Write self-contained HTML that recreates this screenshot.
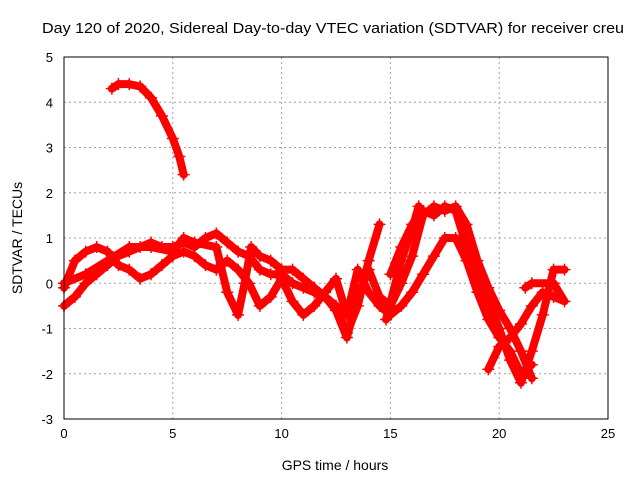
<!DOCTYPE html>
<html><head><meta charset="utf-8"><style>
body{margin:0;background:#fff;}
svg{display:block;font-family:"Liberation Sans",sans-serif;}
</style></head><body>
<svg id="chart" width="640" height="480">
<rect x="0" y="0" width="640" height="480" fill="#fff"/>
<text x="42" y="33" font-size="15" textLength="582" lengthAdjust="spacingAndGlyphs" fill="#000">Day 120 of 2020, Sidereal Day-to-day VTEC variation (SDTVAR) for receiver creu</text>
<g id="grid"></g>
<g id="ticks"></g>
<g id="series"></g>
<rect x="64" y="57" width="544" height="362" fill="none" stroke="#000" stroke-width="1"/>
<text x="335" y="470" font-size="14" text-anchor="middle">GPS time / hours</text>
<text x="0" y="0" font-size="14" text-anchor="middle" transform="translate(22,238) rotate(-90)">SDTVAR / TECUs</text>
</svg>
<script>
const xTicks=[0,5,10,15,20,25];
const yTicks=[-3,-2,-1,0,1,2,3,4,5];
const trackA=[[2.2,4.3],[2.5,4.4],[3,4.4],[3.5,4.35],[4,4.1],[4.5,3.7],[5,3.2],[5.3,2.8],[5.5,2.4]];
const track1=[[0,-0.5],[0.5,-0.3],[1,0],[1.5,0.2],[2,0.4],[2.5,0.6],[3,0.7],[3.5,0.8],[4,0.9],[4.5,0.8],[5,0.8],[5.5,0.9],[6,0.8],[6.5,1.0],[7,1.1],[7.5,0.9],[8,0.7],[8.5,0.6],[9,0.3],[9.5,0.2],[10,0.2],[10.5,0],[11,-0.1],[11.5,-0.2],[12,-0.3],[12.5,-0.5],[13,-1.1],[13.5,-0.5],[14,0.5],[14.5,1.3]];
const track2=[[0,-0.1],[0.5,0.5],[1,0.7],[1.5,0.8],[2,0.7],[2.5,0.4],[3,0.3],[3.5,0.1],[4,0.2],[4.5,0.4],[5,0.6],[5.5,0.7],[6,0.6],[6.5,0.4],[7,0.3],[7.5,0.5],[8,0.3],[8.5,0],[9,-0.5],[9.5,-0.3],[10,0.1],[10.5,-0.4],[11,-0.7],[11.5,-0.5],[12,-0.2],[12.5,0.1],[13,-0.7],[13.5,0.3],[14,-0.2],[14.5,-0.5],[15,-0.7],[15.5,-0.5],[16,-0.2],[16.5,0.2],[17,0.6],[17.5,1.0],[18,1.0],[18.5,0.5],[19,-0.2],[19.5,-0.8],[20,-1.2],[20.5,-1.5],[21,-2.0],[21.5,-1.8]];
const track3=[[0,0],[1,0.2],[2,0.5],[3,0.8],[4,0.8],[5,0.7],[5.5,1.0],[6,0.9],[7,0.8],[7.5,-0.2],[8,-0.7],[8.3,0],[8.6,0.8],[9,0.6],[9.5,0.5],[10,0.3],[10.5,0.3],[11,0.1],[11.5,-0.1],[12,-0.3],[12.5,-0.6],[13,-1.2],[13.5,-0.3],[14,0.3],[14.5,-0.3],[15,-0.5],[15.5,0],[16,0.6],[16.5,1.5],[17,1.7],[17.5,1.6],[18,1.7],[18.5,1.3],[19,0.5],[19.5,-0.1],[20,-0.6],[20.5,-1.0],[21,-1.5],[21.5,-2.1]];
const track4=[[15,0.2],[15.5,0.8],[16,1.3],[16.5,1.6],[17,1.5],[17.5,1.7],[18,1.6],[18.5,0.8],[19,0.2],[19.5,-0.4],[20,-1.0],[20.5,-1.7],[21,-2.2],[21.5,-1.5],[22,-0.7],[22.5,0.3],[23,0.3]];
const track5=[[19.5,-1.9],[20,-1.4],[20.5,-1.2],[21,-0.9],[21.5,-0.5],[22,-0.2],[22.5,-0.3],[23,-0.4],[22.5,0],[21.5,0],[21.2,-0.1]];
const track6=[[14.8,-0.8],[15.5,0.5],[16,1.2],[16.3,1.7]];
const tracks=[trackA,track1,track2,track3,track4,track5,track6];

const NS="http://www.w3.org/2000/svg";
const X0=64,X1=608,Y0=419,Y1=57,XMIN=0,XMAX=25,YMIN=-3,YMAX=5;
const sx=v=>X0+(v-XMIN)/(XMAX-XMIN)*(X1-X0);
const sy=v=>Y0-(v-YMIN)/(YMAX-YMIN)*(Y0-Y1);
function mk(tag,attrs,parent){const e=document.createElementNS(NS,tag);for(const k in attrs)e.setAttribute(k,attrs[k]);parent.appendChild(e);return e;}
const grid=document.getElementById('grid'),ticks=document.getElementById('ticks'),ser=document.getElementById('series');
xTicks.forEach(t=>{
  const x=sx(t);
  if(t>XMIN&&t<XMAX){const g=mk('line',{x1:x,x2:x,y1:Y1,y2:Y0,stroke:'#a0a0a0','stroke-dasharray':'2,3'},grid);
  
  }
  const l=mk('text',{x:x,y:Y0+19,'font-size':13,'text-anchor':'middle'},ticks);l.textContent=t;
  
  
});
yTicks.forEach(t=>{
  const y=sy(t);
  if(t>YMIN&&t<YMAX){const g=mk('line',{x1:X0,x2:X1,y1:y,y2:y,stroke:'#a0a0a0','stroke-dasharray':'2,3'},grid);
  
  }
  const l=mk('text',{x:X0-11,y:y+5,'font-size':13,'text-anchor':'end'},ticks);l.textContent=t;
  
  
});
tracks.forEach((tr,i)=>{
  const p=mk('polyline',{points:tr.map(d=>sx(d[0])+','+sy(d[1])).join(' '),fill:'none',stroke:'#f00','stroke-width':8,'stroke-linejoin':'round','stroke-linecap':'round'},ser);
  
  
  tr.forEach(d=>{
    const x=sx(d[0]),y=sy(d[1]);
    const m=mk('path',{d:`M${x-6},${y}H${x+6}M${x},${y-6}V${y+6}`,stroke:'#f00','stroke-width':1.5},ser);
    
    
  });
});
</script>
</body></html>
